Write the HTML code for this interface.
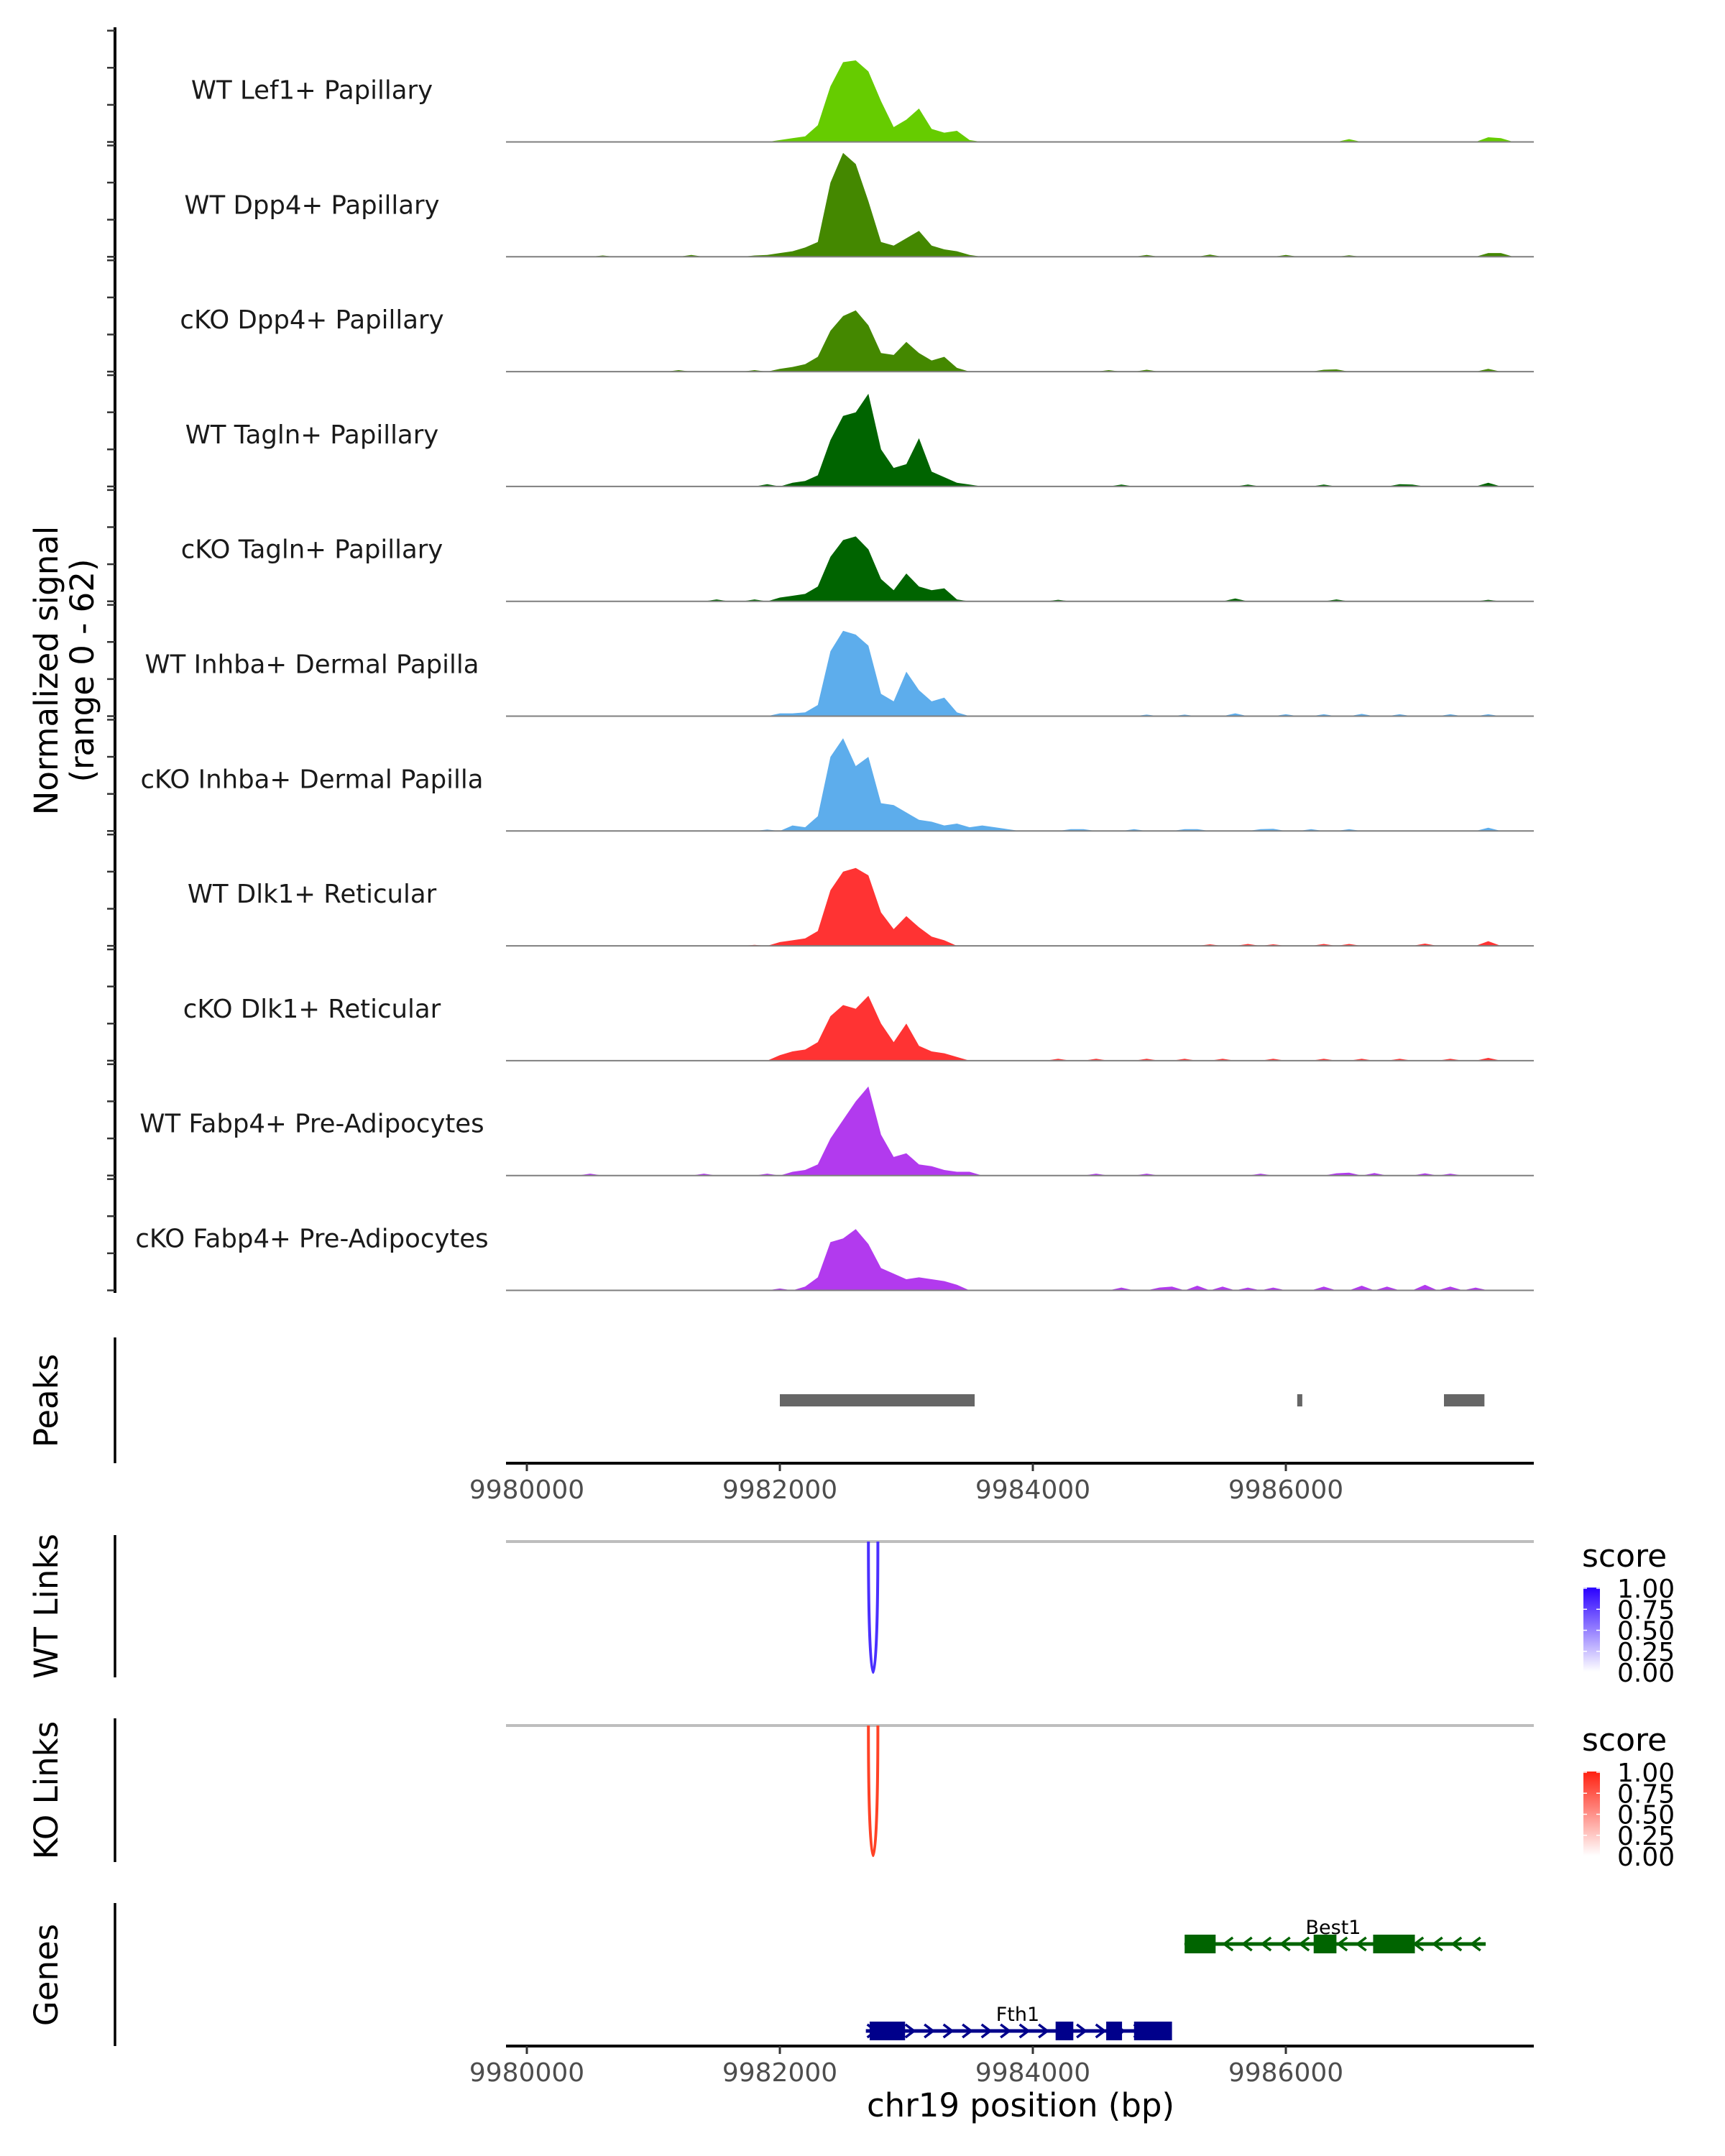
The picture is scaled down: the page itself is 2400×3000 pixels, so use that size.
<!DOCTYPE html>
<html><head><meta charset="utf-8"><style>
html,body{margin:0;padding:0;background:#fff}
svg{display:block}
text{font-family:"DejaVu Sans","Liberation Sans",sans-serif}
</style></head><body>
<svg id="fig" width="2400" height="3000" viewBox="0 0 2400 3000" xmlns="http://www.w3.org/2000/svg">
<g id="tracks"></g>
<text transform="translate(80,933) rotate(-90)" text-anchor="middle" font-size="45">Normalized signal</text>
<text transform="translate(130,933) rotate(-90)" text-anchor="middle" font-size="45">(range 0 - 62)</text>
<g id="peaks"></g>
<g id="links"></g>
<g id="genes"></g>
</svg>
<script>
const NS="http://www.w3.org/2000/svg";
// ---- data ----
const binStart=9980000, binSize=100, nBins=80;
const trackNames=["WT Lef1+ Papillary","WT Dpp4+ Papillary","cKO Dpp4+ Papillary","WT Tagln+ Papillary","cKO Tagln+ Papillary","WT Inhba+ Dermal Papilla","cKO Inhba+ Dermal Papilla","WT Dlk1+ Reticular","cKO Dlk1+ Reticular","WT Fabp4+ Pre-Adipocytes","cKO Fabp4+ Pre-Adipocytes"];
const trackColors=["#66CC00","#448800","#448800","#006400","#006400","#5DADEC","#5DADEC","#FF3333","#FF3333","#B23AEE","#B23AEE"];
const lef1WT={19:1,20:2,21:3,22:9,23:30,24:43,25:44,26:38,27:22,28:8,29:12,30:18,31:7,32:5,33:6,34:1,64:1.5,75:2.5,76:2};
const dpp4WT={5:0.7,12:1,17:0.7,18:1,19:2,20:3,21:5,22:8,23:40,24:56,25:50,26:30,27:8,28:6,29:10,30:14,31:6,32:4,33:3,34:1,48:1,53:1.2,59:1,64:0.8,75:2,76:2};
const dpp4KO={11:0.8,17:0.8,19:1.5,20:2.5,21:4,22:8,23:22,24:30,25:33,26:25,27:10,28:9,29:16,30:10,31:6,32:8,33:2,45:0.8,48:1,62:1,63:1.2,75:1.5};
const taglnWT={18:1.2,20:2,21:3,22:6,23:25,24:38,25:40,26:50,27:20,28:10,29:12,30:26,31:8,32:5,33:2,34:1,46:1,56:1,62:1,68:1.2,69:1,75:2};
const taglnKO={14:1,17:1,19:2,20:3,21:4,22:8,23:24,24:33,25:35,26:28,27:12,28:6,29:15,30:8,31:6,32:7,33:1,41:0.8,55:1.5,63:1,75:0.8};
const inhbaWT={19:1.5,20:1.5,21:2,22:6,23:35,24:46,25:44,26:38,27:12,28:8,29:24,30:14,31:8,32:10,33:2,48:0.8,51:0.8,55:1.5,59:1,62:1,65:1.2,68:1,72:1,75:1};
const inhbaKO={18:0.8,20:3,21:2,22:8,23:40,24:50,25:35,26:40,27:15,28:14,29:10,30:6,31:5,32:3,33:4,34:2,35:3,36:2,37:1,42:1,43:1,47:1,51:1,52:1,57:1,58:1.2,61:1,64:1,75:1.8};
const dlk1WT={17:0.5,19:2,20:3,21:4,22:8,23:30,24:40,25:42,26:38,27:18,28:9,29:16,30:10,31:5,32:3,53:0.8,56:1,58:0.8,62:1,64:1,70:1.2,75:2.5};
const dlk1KO={19:3,20:5,21:6,22:10,23:24,24:30,25:28,26:35,27:20,28:10,29:20,30:8,31:5,32:4,33:2,41:1,44:1,48:1,51:1,54:1,58:1,62:1,65:1,68:1,72:1,75:1.5};
const fabp4WT={4:1,13:1,18:1,20:2,21:3,22:6,23:20,24:30,25:40,26:48,27:22,28:10,29:12,30:6,31:5,32:3,33:2,34:2,44:1,48:1,57:1,63:1.2,64:1.5,66:1.3,70:1.2,72:1};
const fabp4KO={19:1,21:2,22:7,23:26,24:28,25:33,26:25,27:12,28:9,29:6,30:7,31:6,32:5,33:3,46:1.5,49:1.5,50:2,52:2.5,54:2,56:1.5,58:1.5,62:2,65:2.5,67:2,70:3,72:2,74:1.5};
const trackValues=[lef1WT,dpp4WT,dpp4KO,taglnWT,taglnKO,inhbaWT,inhbaKO,dlk1WT,dlk1KO,fabp4WT,fabp4KO];
const yMax=62, yTicks=[0,20,40,60];
const xTicks=[9980000,9982000,9984000,9986000];
const peakStarts=[9982000,9986090,9987250];
const peakEnds=[9983540,9986130,9987570];
const wtLinkStart=[9982700], wtLinkEnd=[9982775], wtLinkScore=[1];
const koLinkStart=[9982700], koLinkEnd=[9982775], koLinkScore=[1];
const legendTicks=["1.00","0.75","0.50","0.25","0.00"];
// ---- scales ----
const X0=704, X1=2134;
function xs(bp){return 733+(bp-9980000)*0.17600;}
const trackBase0=197.5, trackStep=159.8, trackH=160;
function ys(v,base){return base-v/yMax*trackH;}
function el(tag,attrs,parent){const e=document.createElementNS(NS,tag);for(const k in attrs)e.setAttribute(k,attrs[k]);parent.appendChild(e);return e;}
// ---- tracks ----
const tg=document.getElementById('tracks');
const ax=el('line',{x1:160,y1:38,x2:160,y2:1799,stroke:'#000','stroke-width':4},tg);


trackNames.forEach((name,t)=>{
  const base=trackBase0+t*trackStep;
  const g=el('g',{},tg);
  
  
  yTicks.forEach(v=>{
    const tk=el('line',{x1:149,x2:160,y1:ys(v,base),y2:ys(v,base),stroke:'#333','stroke-width':2.5},g);
    
    
  });
  const vals=trackValues[t];
  let pts=[[xs(binStart),base]];
  for(let i=0;i<nBins;i++){
    const v=vals[i]||0;
    const cx=xs(binStart+(i+1.0)*binSize);
    pts.push([cx,ys(v,base)]);
  }
  pts.push([Math.min(X1,xs(binStart+(nBins+1)*binSize)),base]);
  const area=el('polygon',{points:pts.map(p=>p[0].toFixed(1)+','+p[1].toFixed(1)).join(' '),fill:trackColors[t]},g);
  
  
  const bl=el('line',{x1:X0,x2:X1,y1:base,y2:base,stroke:'#7f7f7f','stroke-width':2},g);
  
  
  const lb=el('text',{x:434,y:base-60,'text-anchor':'middle','font-size':35.5,fill:'#1a1a1a'},g);
  lb.textContent=name;
  
  
});
// ---- x axis helper ----
function xAxis(parent,y,name){
  const g=el('g',{},parent);
  
  
  el('line',{x1:X0,x2:X1,y1:y,y2:y,stroke:'#000','stroke-width':4},g);
  xTicks.forEach(v=>{
    el('line',{x1:xs(v),x2:xs(v),y1:y,y2:y+11,stroke:'#333','stroke-width':3},g);
    const t=el('text',{x:xs(v),y:y+49,'text-anchor':'middle','font-size':36,fill:'#4d4d4d'},g);
    t.textContent=String(v);
    
    
  });
}
function rowTitle(parent,text,yc,name){
  const t=el('text',{transform:`translate(80,${yc}) rotate(-90)`,'text-anchor':'middle','font-size':45,fill:'#000'},parent);
  t.textContent=text;
  
  
}
function vAxis(parent,y1,y2,name){
  const a=el('line',{x1:160,x2:160,y1:y1,y2:y2,stroke:'#000','stroke-width':3.5},parent);
  
  
}
// ---- peaks ----
const pg=document.getElementById('peaks');
rowTitle(pg,'Peaks',1949,'peaks-title');
vAxis(pg,1861,2036,'peaks-axis');
peakStarts.forEach((s,i)=>{
  const r=el('rect',{x:xs(s),y:1940,width:Math.max(4,xs(peakEnds[i])-xs(s)),height:17,fill:'#666'},pg);
  
  
});
xAxis(pg,2036,'peaks-x-axis');
// ---- links ----
const lg=document.getElementById('links');
function linkPanel(title,yTop,yBot,yLine,depth,starts,ends,scores,color,gradId,c1,legY,nm){
  rowTitle(lg,title,(yTop+yBot)/2,nm+'-title');
  vAxis(lg,yTop,yBot,nm+'-axis');
  const ln=el('line',{x1:X0,x2:X1,y1:yLine,y2:yLine,stroke:'#bebebe','stroke-width':4},lg);
  
  
  starts.forEach((s,i)=>{
    const a=xs(s),b=xs(ends[i]),d=depth*scores[i]*4/3;
    const p=el('path',{d:`M${a},${yLine} C${a},${yLine+d} ${b},${yLine+d} ${b},${yLine}`,fill:'none',stroke:color,'stroke-width':4},lg);
    
    
  });
  const defs=el('defs',{},lg);
  const gr=el('linearGradient',{id:gradId,x1:0,y1:0,x2:0,y2:1},defs);
  el('stop',{offset:0,'stop-color':c1},gr);
  el('stop',{offset:1,'stop-color':'#ffffff'},gr);
  const lgG=el('g',{},lg);
  
  
  const st=el('text',{x:2201,y:legY,'font-size':44,fill:'#000'},lgG);
  st.textContent='score';
  el('rect',{x:2203,y:legY+29,width:23,height:117,fill:`url(#${gradId})`},lgG);
  legendTicks.forEach((tx,i)=>{
    const yy=legY+30+i*29.25;
    el('line',{x1:2203,x2:2208,y1:yy,y2:yy,stroke:'#fff','stroke-width':1.5},lgG);
    el('line',{x1:2221,x2:2226,y1:yy,y2:yy,stroke:'#fff','stroke-width':1.5},lgG);
    const t=el('text',{x:2250,y:yy+13,'font-size':36,fill:'#000'},lgG);
    t.textContent=tx;
  });
}
linkPanel('WT Links',2136,2334,2145,182,wtLinkStart,wtLinkEnd,wtLinkScore,'#4a30ff','gradWT','#2a00ff',2180,'wt-links');
linkPanel('KO Links',2391,2591,2401,181,koLinkStart,koLinkEnd,koLinkScore,'#ff4226','gradKO','#ff2010',2436,'ko-links');
// ---- genes ----
const gg=document.getElementById('genes');
rowTitle(gg,'Genes',2748,'genes-title');
vAxis(gg,2648,2847,'genes-axis');
const geneNames=["Fth1","Best1"];
const geneStrand=[1,-1];
const geneColors=["#00008B","#006400"];
const geneStart=[9982680,9985200];
const geneEnd=[9985070,9987580];
const geneExonStarts=[[9982710,9984180,9984580,9984800],[9985200,9986220,9986690]];
const geneExonEnds=[[9982990,9984320,9984705,9985100],[9985445,9986400,9987020]];
const geneY=[2826,2705];
geneNames.forEach((gn,i)=>{
  const g=el('g',{},gg);
  
  
  const y=geneY[i],c=geneColors[i];
  const a=xs(geneStart[i]),b=xs(geneEnd[i]);
  el('line',{x1:a,x2:b,y1:y,y2:y,stroke:c,'stroke-width':5},g);
  for(let x=a+8;x<b-2;x+=26.5){
    const dx=geneStrand[i]*6;
    el('polyline',{points:`${x-dx},${y-9} ${x+dx},${y} ${x-dx},${y+9}`,fill:'none',stroke:c,'stroke-width':3.5},g);
  }
  geneExonStarts[i].forEach((s,k)=>{
    const ex=el('rect',{x:xs(s),y:y-13,width:xs(geneExonEnds[i][k])-xs(s),height:26,fill:c},g);
    
    
  });
  const t=el('text',{x:(i==0?1416:1855),y:y-14,'text-anchor':'middle','font-size':27,fill:'#000'},g);
  t.textContent=gn;
  
  
});
xAxis(gg,2847,'genes-x-axis');
const xl=el('text',{x:1420,y:2945,'text-anchor':'middle','font-size':45,fill:'#000'},gg);
xl.textContent='chr19 position (bp)';


</script>
</body></html>
